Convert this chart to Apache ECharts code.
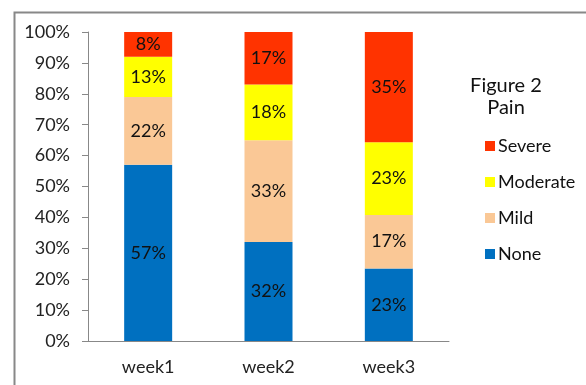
<!DOCTYPE html>
<html>
<head>
<meta charset="utf-8">
<script src="https://cdn.jsdelivr.net/npm/echarts@6/dist/echarts.min.js"></script>
<style>
  html, body { margin: 0; padding: 0; background: #fff; }
  #chart { width: 586px; height: 385px; }
</style>
</head>
<body>
<div id="chart"></div>
<script>
// 数据
var weeks = ['week1', 'week2', 'week3']
var none = [57, 32, 23]
var mild = [22, 33, 17]
var moderate = [13, 18, 23]
var severe = [8, 17, 35]
var yTicks = ['0%', '10%', '20%', '30%', '40%', '50%', '60%', '70%', '80%', '90%', '100%']

var font = 'Lato, "Open Sans", sans-serif'

// 每周合计，用来换算成100%堆叠
var totals = weeks.map(function (w, i) {
  return none[i] + mild[i] + moderate[i] + severe[i]
})

function toShare (arr) {
  return arr.map(function (v, i) {
    return { value: v / totals[i] * 100, raw: v }
  })
}

function makeSeries (name, arr, color) {
  return {
    name: name,
    type: 'bar',
    stack: 'pain',
    barWidth: 48,
    itemStyle: { color: color },
    label: {
      show: true,
      position: 'inside',
      color: '#111',
      fontFamily: font,
      fontSize: 18,
      formatter: function (p) { return p.data.raw + '%' }
    },
    data: toShare(arr)
  }
}

var myChart = echarts.init(document.getElementById('chart'))
var option = {
  animation: false,
  textStyle: { fontFamily: font },
  graphic: [{
    type: 'rect',
    left: 12,
    top: 10,
    shape: { width: 600, height: 400 },
    style: { fill: 'none', stroke: '#888', lineWidth: 2 }
  }],
  title: {
    text: 'Figure 2\nPain',
    left: 501,
    top: 70,
    textAlign: 'center',
    textStyle: { fontFamily: font, fontSize: 20, fontWeight: 'normal', color: '#111', lineHeight: 22 }
  },
  legend: {
    orient: 'vertical',
    left: 480,
    top: 132,
    itemWidth: 10,
    itemHeight: 10,
    itemGap: 18,
    icon: 'rect',
    data: ['Severe', 'Moderate', 'Mild', 'None'],
    textStyle: { fontFamily: font, fontSize: 18, color: '#111', padding: [0, 0, 0, -2] }
  },
  grid: {
    left: 88,
    right: 137,
    top: 32,
    bottom: 44
  },
  xAxis: {
    type: 'category',
    data: weeks,
    axisLine: { lineStyle: { color: '#888' } },
    axisTick: { length: 8, lineStyle: { color: '#888' } },
    axisLabel: { color: '#222', fontSize: 18, fontFamily: font, margin: 17 }
  },
  yAxis: {
    type: 'value',
    min: 0,
    max: 100,
    interval: 10,
    axisLine: { show: true, lineStyle: { color: '#888' } },
    axisTick: { show: true, length: 6, lineStyle: { color: '#888' } },
    splitLine: { show: false },
    axisLabel: {
      color: '#222',
      fontSize: 18,
      fontFamily: font,
      margin: 18,
      formatter: function (v) { return yTicks[Math.round(v / 10)] }
    }
  },
  series: [
    makeSeries('None', none, '#0070C0'),
    makeSeries('Mild', mild, '#FAC896'),
    makeSeries('Moderate', moderate, '#FFFF00'),
    makeSeries('Severe', severe, '#FF3300')
  ]
}
myChart.setOption(option)
</script>
</body>
</html>
